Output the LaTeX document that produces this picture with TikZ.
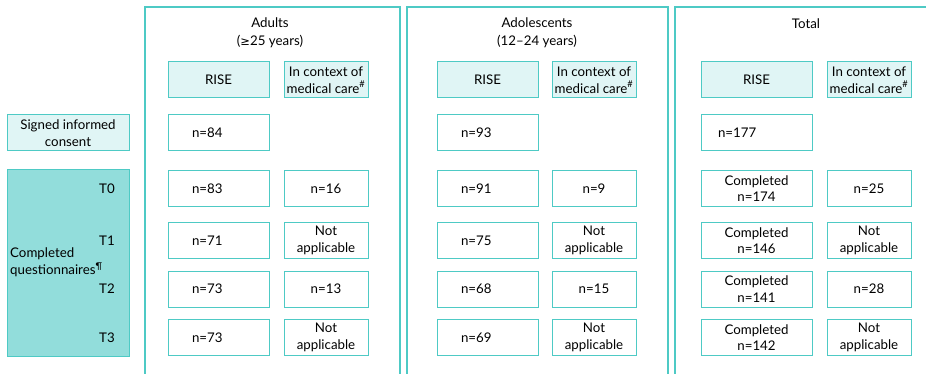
\documentclass[tikz,border=0pt]{standalone}
\usepackage{fontspec}
\setmainfont{Lato}
\newfontfamily\symfont{DejaVu Sans}
\usepackage{tikz}
\usetikzlibrary{shapes}
\definecolor{rimteal}{RGB}{78,202,197}
\definecolor{headfill}{RGB}{224,245,245}
\definecolor{qfill}{RGB}{146,221,219}
\tikzstyle{panel} = [draw=rimteal, line width=1.1pt]
\tikzstyle{cell} = [rectangle, draw=rimteal, line width=1pt, fill=white,
minimum height=36pt, inner sep=0pt, align=center,
font=\fontsize{13.3}{16.5}\selectfont]
\tikzstyle{head} = [fill=headfill]
\tikzstyle{rise} = [cell, minimum width=101pt]
\tikzstyle{riseleft} = [rise, text width=53pt, inner xsep=24pt, align=left]
\tikzstyle{care} = [cell, minimum width=84pt]
\tikzstyle{total} = [cell, minimum width=111pt]
\tikzstyle{title} = [align=center, inner sep=0pt,
font=\fontsize{13.3}{18}\selectfont]
\newcommand{\na}{Not\\applicable}
\newcommand{\fn}[1]{\textsuperscript{#1}}

\begin{document}
\begin{tikzpicture}[x=1pt,y=-1pt]
	\useasboundingbox (0,0) rectangle (926,374);

	% cohort panels, open at the bottom edge
	\draw[panel] (145,7) rectangle (400,390);
	\draw[panel] (407,7) rectangle (668,390);
	\draw[panel] (675,7) rectangle (940,390);

	\node[title] (adultsTitle) at (270,33) {Adults\\({\symfont\fontsize{11.5}{18}\selectfont ≥}25 years)};
	\node[title] (adolTitle) at (537,33) {Adolescents\\(12–24 years)};
	\node[title] (totalTitle) at (806,24) {Total};

	% column headers
	\node[rise, head] (adultsRise) at (218.5,80) {RISE};
	\node[care, head] (adultsCare) at (326,80) {In context of\\medical care\fn{\#}};
	\node[rise, head] (adolRise) at (487.5,80) {RISE};
	\node[care, head] (adolCare) at (594,80) {In context of\\medical care\fn{\#}};
	\node[total, head] (totalRise) at (756.5,80) {RISE};
	\node[care, head] (totalCare) at (869,80) {In context of\\medical care\fn{\#}};

	% row labels
	\node[cell, head, minimum width=122pt] (consent) at (68,133) {Signed informed\\consent};
	\node[cell, fill=qfill, minimum width=122pt, minimum height=186pt]
	  (questionnaires) at (68,263) {};
	\node[anchor=west, align=left, inner sep=0pt, font=\fontsize{13.3}{17}\selectfont]
	  (qlabel) at (10,262) {Completed\\questionnaires\fn{¶}};
	\foreach \t/\y in {0/188.5, 1/240.5, 2/289, 3/337.5}
	  \node[font=\fontsize{13.3}{16}\selectfont, inner sep=0pt] (tlabel\t) at (107,\y) {T\t};

	% signed informed consent
	\node[riseleft] (adultsRiseC) at (218.5,133) {n=84};
	\node[riseleft] (adolRiseC) at (487.5,133) {n=93};
	\node[total, text width=77pt, inner xsep=17pt, align=left] (totalRiseC) at (756.5,133) {n=177};

	% completed questionnaires
	\foreach \t/\y/\a/\b/\c/\d/\e/\f in {
	  0/188.5/83/n=16/91/n=9/174/n=25,
	  1/240.5/71/\na/75/\na/146/\na,
	  2/289/73/n=13/68/n=15/141/n=28,
	  3/337.5/73/\na/69/\na/142/\na} {
	  \node[riseleft] (adultsRise\t) at (218.5,\y) {n=\a};
	  \node[care] (adultsCare\t) at (326,\y) {\b};
	  \node[riseleft] (adolRise\t) at (487.5,\y) {n=\c};
	  \node[care] (adolCare\t) at (594,\y) {\d};
	  \node[total] (totalRise\t) at (756.5,\y) {Completed\\n=\e};
	  \node[care] (totalCare\t) at (869,\y) {\f};
	}

\end{tikzpicture}
\end{document}
